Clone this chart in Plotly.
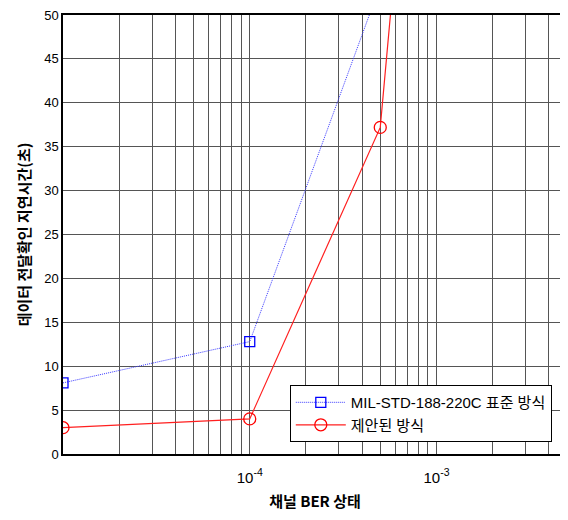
import plotly.graph_objects as go

# Data
ber_std = [1e-5, 1e-4, 5e-4]
delay_std = [8.1, 12.8, 53.4]
ber_new = [1e-5, 1e-4, 5e-4, 1e-3]
delay_new = [3.0, 4.0, 37.2, 108.0]

name_std = "MIL-STD-188-220C 표준 방식"
name_new = "제안된 방식"
x_title = "채널 BER 상태"
y_title = "데이터 전달확인 지연시간(초)"

x_grid = [m * 10 ** e for e in (-5, -4, -3) for m in range(1, 10) if m * 10 ** e <= 5e-3 + 1e-12]
x_labels = {1e-4: "10<sup>-4</sup>", 1e-3: "10<sup>-3</sup>"}
x_text = [next((v for k, v in x_labels.items() if abs(k - g) < 1e-12), "") for g in x_grid]
y_ticks = list(range(0, 55, 5))

fig = go.Figure()
fig.add_trace(go.Scatter(
    x=ber_std, y=delay_std, name=name_std, mode="lines+markers",
    line=dict(color="#3a3aff", width=1, dash="1px,1px"),
    marker=dict(symbol="square-open", size=10, color="#0000ff", line=dict(width=1.3)),
))
fig.add_trace(go.Scatter(
    x=ber_new, y=delay_new, name=name_new, mode="lines+markers",
    line=dict(color="#ff2020", width=1.2),
    marker=dict(symbol="circle-open", size=12, color="#ff0000", line=dict(width=1.3)),
))

# page body has an 8px margin, so the figure is sized/offset to compensate
fig.update_layout(
    width=560, height=512,
    margin=dict(l=55, r=1, t=7, b=66),
    paper_bgcolor="white", plot_bgcolor="white",
    font=dict(family="Liberation Sans, Arial", size=12, color="black"),
    showlegend=True,
    legend=dict(
        x=0.45, y=0.157, xanchor="left", yanchor="top",
        bgcolor="white", bordercolor="black", borderwidth=1,
        font=dict(family="Liberation Sans, Noto Sans CJK KR", size=15),
        tracegroupgap=0, itemwidth=50,
    ),
)
fig.update_xaxes(
    type="log", range=[-5, -2.30103], automargin=False,
    tickvals=x_grid, ticktext=x_text, ticklabelstandoff=9,
    showgrid=True, gridcolor="#555555", gridwidth=1,
    ticks="", showline=True, linecolor="black", linewidth=1.5, mirror=True,
    zeroline=False,
    tickfont=dict(size=15),
    title=dict(text=x_title, font=dict(family="Noto Sans CJK KR", size=15, weight="bold"), standoff=12),
)
fig.update_yaxes(
    range=[0, 50], tickvals=y_ticks, automargin=False, ticklabeloverflow="allow",
    showgrid=True, gridcolor="#555555", gridwidth=1,
    ticks="", showline=True, linecolor="black", linewidth=1.5, mirror=True,
    zeroline=False,
    tickfont=dict(size=13),
    title=dict(text=y_title, font=dict(family="Noto Sans CJK KR", size=15, weight="bold"), standoff=10),
)

fig.write_html("out.html")
